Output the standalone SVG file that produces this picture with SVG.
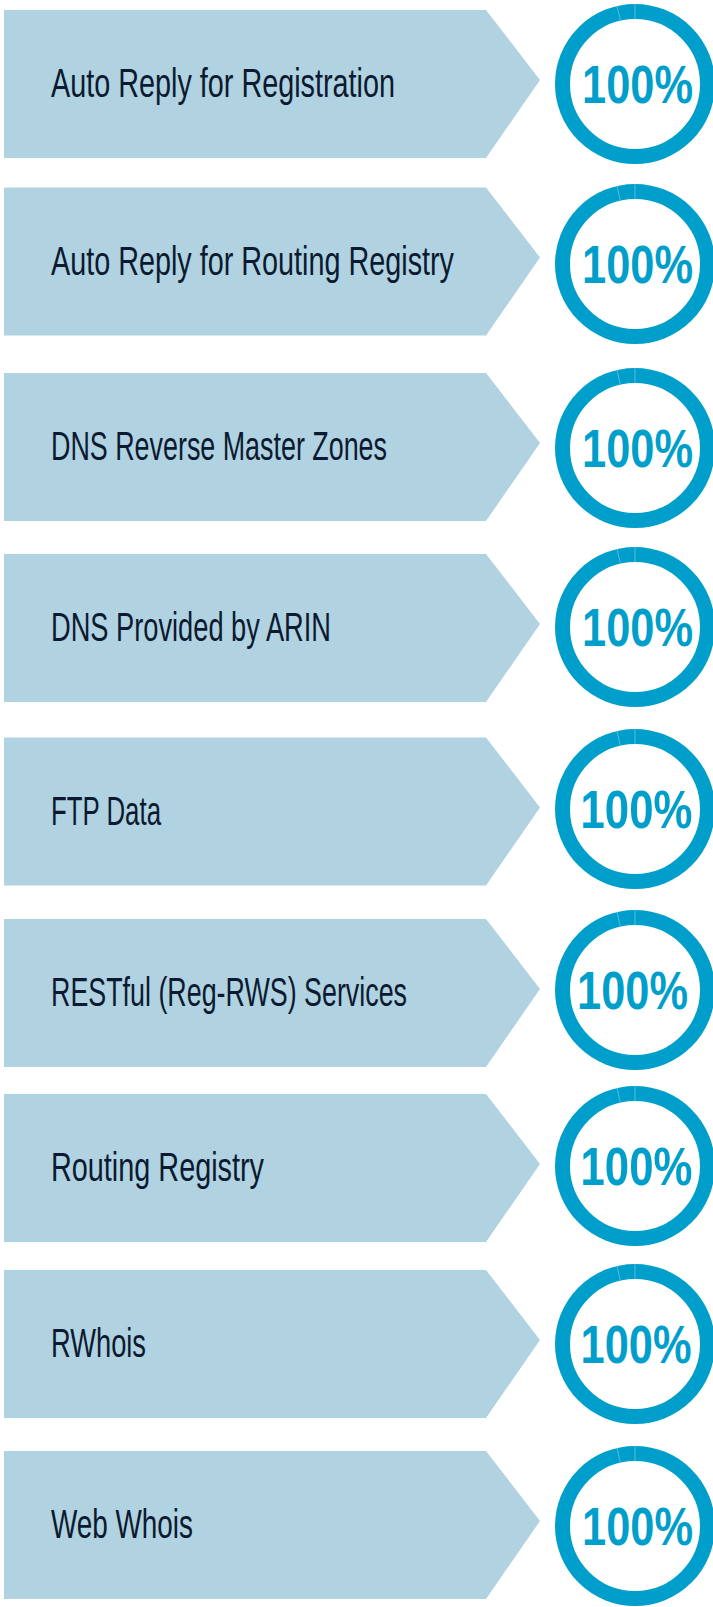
<svg xmlns="http://www.w3.org/2000/svg" width="713" height="1607" viewBox="0 0 713 1607">
<defs>
<style>
.arrow{fill:#b0d2e1}
.label{font-family:"Liberation Sans",Arial,sans-serif;font-size:40px;fill:#0b1a30}
.ring{fill:none;stroke:#009fcb;stroke-width:15}
.div{stroke:#6cc3e3;stroke-width:0.8}
.pct{font-family:"Liberation Sans",Arial,sans-serif;font-weight:bold;font-size:53px;fill:#009fcb;text-anchor:middle}
</style>
<g id="badge">
<circle class="ring" cx="0" cy="0" r="72.5"/>
<line class="div" x1="0" y1="-80" x2="0" y2="-65"/>
<line class="div" x1="-18" y1="-78" x2="-14.6" y2="-63.3"/>
</g>
<path id="arr" class="arrow" d="M4 0 H486 L540 70 L486 148 H4 Z"/>
</defs>
<rect width="713" height="1607" fill="#ffffff"/>
<g id="row1"><use href="#arr" y="10"/><text class="label" x="51" y="97" textLength="344" lengthAdjust="spacingAndGlyphs">Auto Reply for Registration</text><use href="#badge" x="635" y="84"/><text class="pct" x="637.5" y="103" textLength="111" lengthAdjust="spacingAndGlyphs">100%</text></g>
<g id="row2"><use href="#arr" y="187.5"/><text class="label" x="51" y="274.5" textLength="403" lengthAdjust="spacingAndGlyphs">Auto Reply for Routing Registry</text><use href="#badge" x="635" y="264"/><text class="pct" x="637.5" y="283" textLength="111" lengthAdjust="spacingAndGlyphs">100%</text></g>
<g id="row3"><use href="#arr" y="373"/><text class="label" x="51" y="460" textLength="336" lengthAdjust="spacingAndGlyphs">DNS Reverse Master Zones</text><use href="#badge" x="635" y="448"/><text class="pct" x="637.5" y="467" textLength="111" lengthAdjust="spacingAndGlyphs">100%</text></g>
<g id="row4"><use href="#arr" y="554"/><text class="label" x="51" y="641" textLength="280" lengthAdjust="spacingAndGlyphs">DNS Provided by ARIN</text><use href="#badge" x="635" y="627"/><text class="pct" x="637.5" y="646" textLength="111" lengthAdjust="spacingAndGlyphs">100%</text></g>
<g id="row5"><use href="#arr" y="737.5"/><text class="label" x="51" y="824.5" textLength="110" lengthAdjust="spacingAndGlyphs">FTP Data</text><use href="#badge" x="635" y="809"/><text class="pct" x="636.5" y="828" textLength="112" lengthAdjust="spacingAndGlyphs">100%</text></g>
<g id="row6"><use href="#arr" y="919"/><text class="label" x="51" y="1006" textLength="356" lengthAdjust="spacingAndGlyphs">RESTful (Reg-RWS) Services</text><use href="#badge" x="635" y="990"/><text class="pct" x="632.5" y="1009" textLength="111" lengthAdjust="spacingAndGlyphs">100%</text></g>
<g id="row7"><use href="#arr" y="1094"/><text class="label" x="51" y="1181" textLength="213" lengthAdjust="spacingAndGlyphs">Routing Registry</text><use href="#badge" x="635" y="1166"/><text class="pct" x="636.5" y="1185" textLength="112" lengthAdjust="spacingAndGlyphs">100%</text></g>
<g id="row8"><use href="#arr" y="1270"/><text class="label" x="51" y="1357" textLength="95" lengthAdjust="spacingAndGlyphs">RWhois</text><use href="#badge" x="635" y="1344"/><text class="pct" x="636" y="1363" textLength="111" lengthAdjust="spacingAndGlyphs">100%</text></g>
<g id="row9"><use href="#arr" y="1451"/><text class="label" x="51" y="1538" textLength="142" lengthAdjust="spacingAndGlyphs">Web Whois</text><use href="#badge" x="635" y="1526"/><text class="pct" x="637.5" y="1545" textLength="111" lengthAdjust="spacingAndGlyphs">100%</text></g>
</svg>
